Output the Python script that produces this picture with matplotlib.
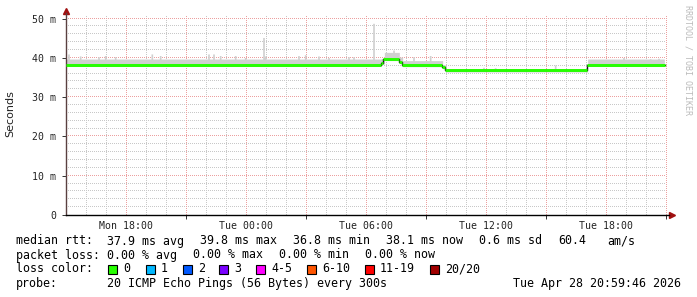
import numpy as np
import matplotlib
matplotlib.use('Agg')
import matplotlib.pyplot as plt
from matplotlib.patches import Rectangle

# time axis: hours since Mon 15:00
# median rtt segments (ms)
seg_start = [0.0, 15.75, 15.85, 16.65, 16.8, 18.8, 18.95, 26.05]
seg_end = [15.75, 15.85, 16.65, 16.8, 18.8, 18.95, 26.05, 29.95]
median_ms = [38.2, 38.8, 39.7, 39.0, 38.15, 37.6, 36.8, 38.2]
smoke_top = [39.7, 39.8, 41.4, 40.2, 39.3, 38.2, 37.2, 39.7]

# smoke spikes (hour, ms)
spike_h = [0.05, 0.7, 1.55, 1.9, 2.4, 4.25, 4.65, 7.1, 7.3, 7.7, 8.45, 8.95,
           9.8, 9.95, 11.6, 11.95, 12.55, 13.1, 14.05, 14.3, 15.3, 16.3,
           17.3, 18.2, 20.85, 21.45, 24.45, 27.8, 29.2, 29.6]
spike_ms = [41.0, 40.5, 40.3, 40.6, 40.3, 41.0, 40.6, 41.0, 41.0, 40.6, 40.6, 40.1,
            45.2, 40.5, 40.6, 40.8, 40.5, 40.1, 40.3, 40.3, 48.8, 42.0,
            40.3, 40.6, 37.6, 37.5, 38.2, 40.1, 39.8, 39.9]

tick_h = [3, 9, 15, 21, 27]
tick_labels = ['Mon 18:00', 'Tue 00:00', 'Tue 06:00', 'Tue 12:00', 'Tue 18:00']
ytick_ms = [0, 10, 20, 30, 40, 50]
ytick_labels = ['0', '10 m', '20 m', '30 m', '40 m', '50 m']

loss_labels = ['0', '1', '2', '3', '4-5', '6-10', '11-19', '20/20']
loss_colors = ['#26ff00', '#00b8ff', '#0059ff', '#7a00ff', '#ff00ff', '#ff5500', '#ff0000', '#a10000']

W, H = 697, 297
fig = plt.figure(figsize=(W / 100, H / 100), dpi=100)
x0, x1 = 66, 669
y0, ytop = 215, 12.7
ax = fig.add_axes([x0 / W, (H - y0) / H, (x1 - x0) / W, (y0 - ytop) / H])
xmax, ymax = 30.15, 51.5
ax.set_xlim(0, xmax)
ax.set_ylim(0, ymax)

# dotted grid drawn as single pixels every 2 px
xpx = xmax / (x1 - x0)      # hours per pixel
ypx = ymax / (y0 - ytop)    # ms per pixel
gx = np.arange(0, 30.0, 2 * xpx)
gy = np.arange(0, 50.5, 2 * ypx)
for h in range(1, 31):
    c = '#eca0a0' if h % 3 == 0 else '#c8c8c8'
    ax.plot(np.full(gy.shape, h), gy, ls='none', marker=',', color=c, zorder=0.5 if h % 3 == 0 else 0)
for v in range(2, 51, 2):
    c = '#eca0a0' if v % 10 == 0 else '#c8c8c8'
    ax.plot(gx, np.full(gx.shape, v), ls='none', marker=',', color=c, zorder=0.5 if v % 10 == 0 else 0)

# smoke
step = 1 / 12
t = np.arange(0, 30, step)
top = np.full(t.shape, np.nan)
bot = np.full(t.shape, np.nan)
for s, e, m, sm in zip(seg_start, seg_end, median_ms, smoke_top):
    sel = (t >= s - 1e-9) & (t < e - 1e-9)
    top[sel] = sm
    bot[sel] = m - 0.4
for h, v in zip(spike_h, spike_ms):
    i = int(round(h / step))
    top[i] = v
ax.fill_between(t, bot, top, step='post', color='#d0d0d0', lw=0, zorder=1)

# median: black connectors, green levels
xs, ys = [], []
for s, e, m in zip(seg_start, seg_end, median_ms):
    xs += [s, e]
    ys += [m, m]
ax.plot(xs, ys, color='#101010', lw=1.0, zorder=2)
ax.hlines(median_ms, seg_start, seg_end, color=loss_colors[0], lw=2.1, zorder=3)

# axes
for sp in ['top', 'right']:
    ax.spines[sp].set_visible(False)
ax.spines['left'].set_color('#5a4040')
ax.spines['bottom'].set_color('black')
ax.spines['left'].set_linewidth(1.0)
ax.spines['bottom'].set_linewidth(1.0)
ax.plot(1.005, 0, marker='>', color='#a01010', ms=4, transform=ax.transAxes, clip_on=False)
ax.plot(0, 1.01, marker='^', color='#a01010', ms=4, transform=ax.transAxes, clip_on=False)

ax.set_xticks([6, 12, 18, 24, 30])
ax.set_xticklabels([])
ax.tick_params(axis='x', length=3, width=0.7, color='#333333', direction='out')
for h, lab in zip(tick_h, tick_labels):
    ax.text(h, -1.5, lab, ha='center', va='top', fontsize=7.1,
            family='DejaVu Sans Mono', color='#222222')
ax.set_yticks(ytick_ms)
ax.set_yticklabels(ytick_labels, family='DejaVu Sans Mono', fontsize=7.1, color='#222222')
ax.tick_params(axis='y', length=3, width=0.7, color='#333333', pad=4)

fig.text(10 / W, 1 - 114 / H, 'Seconds', rotation=90, ha='center', va='center',
         fontsize=8, family='DejaVu Sans', color='#222222')
fig.text(688 / W, 1 - 5 / H, 'RRDTOOL / TOBI OETIKER', rotation=270, ha='center', va='top',
         fontsize=6, family='DejaVu Sans Mono', color='#bbbbbb')

# legend text
mono = dict(family='DejaVu Sans Mono', fontsize=8.4, color='black', va='center', ha='left')
def put(x, y, s):
    fig.text(x / W, 1 - y / H, s, **mono)

put(16, 241, 'median rtt:')
for x, s in zip([107, 200, 293, 386, 479, 558, 607],
                ['37.9 ms avg', '39.8 ms max', '36.8 ms min', '38.1 ms now', '0.6 ms sd', '60.4', 'am/s']):
    put(x, 241, s)
put(16, 255, 'packet loss:')
for x, s in zip([107, 193, 279, 365], ['0.00 % avg', '0.00 % max', '0.00 % min', '0.00 % now']):
    put(x, 255, s)
put(16, 269, 'loss color:')
for x, lab, c in zip([108, 146, 183, 219, 256, 307, 365, 430], loss_labels, loss_colors):
    fig.patches.append(Rectangle((x / W, 1 - 273.5 / H), 9 / W, 9 / H, transform=fig.transFigure,
                                 facecolor=c, edgecolor='black', lw=0.8))
    put(x + 15, 269, lab)
put(16, 283, 'probe:')
put(107, 283, '20 ICMP Echo Pings (56 Bytes) every 300s')
put(513, 283, 'Tue Apr 28 20:59:46 2026')

fig.savefig('out.png', dpi=100)
